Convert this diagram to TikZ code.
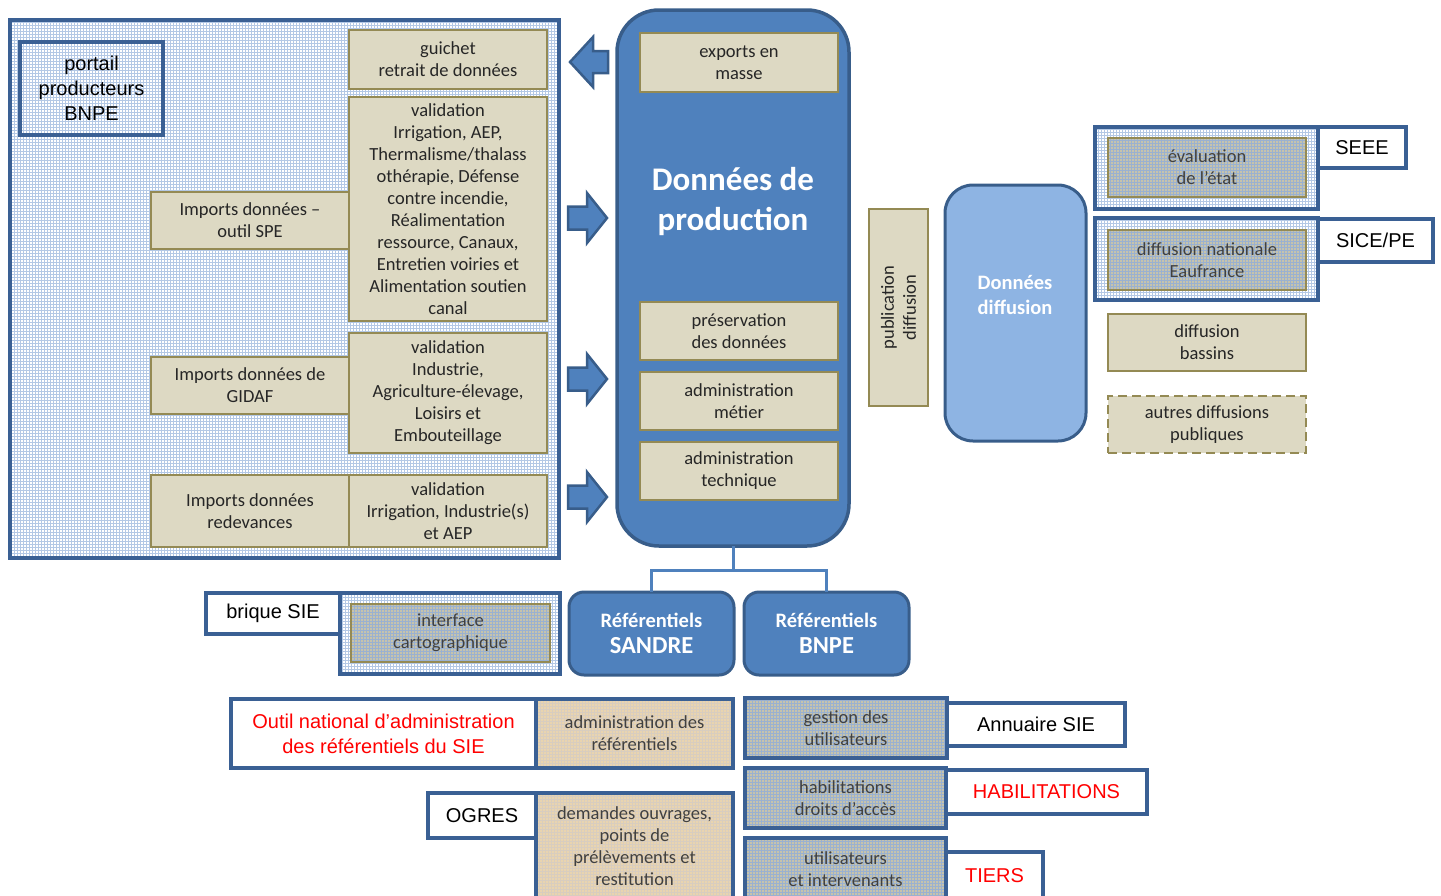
\documentclass[tikz,border=0pt]{standalone}
\usepackage{fontspec}
\setmainfont{Carlito}
\newfontfamily\arialfont{Liberation Sans}
\usetikzlibrary{calc}

\definecolor{frameblue}{HTML}{3A6094}
\definecolor{boxblue}{HTML}{4F81BD}
\definecolor{boxedge}{HTML}{385D8A}
\definecolor{lightblue}{HTML}{8EB4E3}
\definecolor{tanfill}{HTML}{DDD9C3}
\definecolor{oliveedge}{HTML}{948A54}
\definecolor{txt}{HTML}{262626}
\definecolor{meshtxt}{HTML}{404040}
\definecolor{meshblue}{HTML}{B3C8E5}
\definecolor{greyfill}{HTML}{C6C3AC}
\definecolor{greymesh}{HTML}{9AB1D0}
\definecolor{sandfill}{HTML}{E9D4AF}
\definecolor{sandmesh}{HTML}{D8CDBF}

\tikzset{
  every node/.style={inner sep=0pt, outer sep=0pt, align=center},
  bodytext/.style={font=\fontsize{18.5}{22}\selectfont, text=txt},
  tanbox/.style={bodytext, draw=oliveedge, line width=2.5pt, fill=tanfill},
  meshfill/.style 2 args={fill=#1, path picture={\draw[draw=#2, line width=0.7pt]
      (path picture bounding box.south west) grid[step=3pt] (path picture bounding box.north east);}},
  bluemesh/.style={meshfill={white}{meshblue}},
  greymeshbox/.style={bodytext, text=meshtxt, draw=oliveedge, line width=2pt, meshfill={greyfill}{greymesh}},
  sandbox/.style={frameline, bodytext, text=meshtxt, meshfill={sandfill}{sandmesh}},
  userbox/.style={frameline, bodytext, text=meshtxt, meshfill={greyfill}{greymesh}},
  frameline/.style={draw=frameblue, line width=3.5pt},
  tagbox/.style={frameline, fill=white, text=black, font=\arialfont\fontsize{20}{25}\selectfont},
  roundblue/.style={draw=boxedge, line width=3pt, fill=boxblue, text=white},
  refbox/.style={roundblue, rounded corners=15pt, font=\bfseries\fontsize{20.5}{26}\selectfont},
  arrowshape/.style={draw=boxedge, fill=boxblue, line width=2.5pt, line join=miter},
  treeline/.style={draw=boxblue, line width=3pt},
}

% rectangle node given by its corners: style, x1, y1, x2, y2, name, text
\newcommand\boxnode[7]{%
  \pgfmathsetmacro\bxw{#4-#2}\pgfmathsetmacro\bxh{#5-#3}%
  \node[#1, minimum width=\bxw pt, minimum height=\bxh pt] (#6) at ({(#2+#4)/2},{(#3+#5)/2}) {#7};}

% block arrow pointing right, centred on height #1
\newcommand\rightblock[1]{%
  \draw[arrowshape] (568,#1-11.5) -- (587,#1-11.5) -- (587,#1-25) -- (607,#1)
    -- (587,#1+25) -- (587,#1+11.5) -- (568,#1+11.5) -- cycle;}

\begin{document}
\begin{tikzpicture}[x=1pt,y=-1pt]
\useasboundingbox (0,0) rectangle (1441,895);

% ---- producers' portal ----
\boxnode{frameline, line width=4pt, bluemesh}{10}{20}{559}{558}{outer}{}
\boxnode{frameline, line width=4pt, text=black, font=\arialfont\fontsize{20}{25}\selectfont}{20}{42}{163}{135}{portail}{portail\\producteurs\\BNPE}
\boxnode{tanbox}{349}{30}{547}{89}{guichet}{guichet\\retrait de données}
\boxnode{tanbox}{349}{97}{547}{321}{valA}{validation\\Irrigation, AEP,\\Thermalisme/thalass\\othérapie, Défense\\contre incendie,\\Réalimentation\\ressource, Canaux,\\Entretien voiries et\\Alimentation soutien\\canal}
\boxnode{tanbox}{151}{192}{349}{249}{impSPE}{Imports données –\\outil SPE}
\boxnode{tanbox}{151}{357}{349}{414}{impGIDAF}{Imports données de\\GIDAF}
\boxnode{tanbox}{349}{333}{547}{453}{valB}{validation\\Industrie,\\Agriculture-élevage,\\Loisirs et\\Embouteillage}
\boxnode{tanbox}{151}{475}{349}{547}{impRed}{Imports données\\redevances}
\boxnode{tanbox}{349}{475}{547}{547}{valC}{validation\\Irrigation, Industrie(s)\\et AEP}

% ---- block arrows ----
\draw[arrowshape] (608,51) -- (593,51) -- (593,37) -- (570,62) -- (593,87) -- (593,73) -- (608,73) -- cycle;
\rightblock{218}
\rightblock{379}
\rightblock{497}

% ---- production data ----
\boxnode{roundblue, rounded corners=42pt, line width=3.5pt}{617}{10}{849}{546}{prod}{}
\node[text=white, font=\bfseries\fontsize{33}{40}\selectfont] (prodtitle) at (733,202) {Données de\\production};
\boxnode{tanbox}{640}{33}{838}{92}{exports}{exports en\\masse}
\boxnode{tanbox}{640}{302}{838}{360}{preserv}{préservation\\des données}
\boxnode{tanbox}{640}{372}{838}{430}{admMet}{administration\\métier}
\boxnode{tanbox}{640}{442}{838}{500}{admTech}{administration\\technique}

% ---- reference data ----
\boxnode{refbox}{569}{592}{734}{675}{sandre}{Référentiels\\{\fontsize{24.5}{26}\selectfont SANDRE}}
\boxnode{refbox}{744}{592}{909}{675}{bnpe}{Référentiels\\{\fontsize{24.5}{26}\selectfont BNPE}}
\coordinate (fork) at ($(prod.south)+(0,24)$);
\draw[treeline] (prod.south) -- (fork);
\draw[treeline] (sandre.north) |- (fork) -| (bnpe.north);

% ---- publication / diffusion ----
\boxnode{tanbox}{869}{209}{928}{406}{pub}{}
\node[bodytext, rotate=90] (pubtext) at (pub.center) {publication\\diffusion};
\boxnode{roundblue, fill=lightblue, rounded corners=28pt}{945}{185}{1086}{441}{diff}{}
\node[text=white, font=\bfseries\fontsize{20.5}{25}\selectfont] (difftext) at (1015,295) {Données\\diffusion};

\boxnode{frameline, bluemesh}{1095}{127}{1318}{209}{seeeFrame}{}
\boxnode{greymeshbox}{1108}{138}{1306}{197}{eval}{évaluation\\de l’état}
\boxnode{tagbox}{1318}{127}{1406}{168}{seee}{SEEE}
\boxnode{frameline, bluemesh}{1095}{218}{1318}{300}{siceFrame}{}
\boxnode{greymeshbox}{1108}{230}{1306}{290}{eaufr}{diffusion nationale\\Eaufrance}
\boxnode{tagbox}{1318}{219}{1433}{262}{sice}{SICE/PE}
\boxnode{tanbox}{1108}{314}{1306}{371}{bassins}{diffusion\\bassins}
\boxnode{tanbox, dash pattern=on 9pt off 5pt}{1108}{396}{1306}{453}{autres}{autres diffusions\\publiques}

% ---- SIE bricks ----
\boxnode{frameline, bluemesh}{340}{593}{560}{674}{cartoFrame}{}
\boxnode{greymeshbox}{351}{604}{550}{662}{carto}{interface\\cartographique}
\boxnode{tagbox}{206}{593}{340}{634}{brique}{brique SIE}

\boxnode{tagbox, text=red}{231}{699}{536}{768}{outil}{Outil national d’administration\\des référentiels du SIE}
\boxnode{sandbox}{536}{699}{733}{768}{admRef}{administration des\\référentiels}
\boxnode{sandbox}{536}{793}{733}{900}{ogresData}{demandes ouvrages,\\points de\\prélèvements et\\restitution}
\boxnode{tagbox}{428}{793}{536}{838}{ogres}{OGRES}

\boxnode{userbox}{745}{698}{947}{758}{gestion}{gestion des\\utilisateurs}
\boxnode{tagbox}{947}{703}{1125}{746}{annuaire}{Annuaire SIE}
\boxnode{userbox}{745}{768}{946}{828}{habil}{habilitations\\droits d’accès}
\boxnode{tagbox, text=red}{946}{770}{1147}{814}{habTag}{HABILITATIONS}
\boxnode{userbox}{745}{838}{946}{900}{util}{utilisateurs\\et intervenants}
\boxnode{tagbox, text=red}{946}{852}{1043}{900}{tiers}{TIERS}
\end{tikzpicture}
\end{document}
